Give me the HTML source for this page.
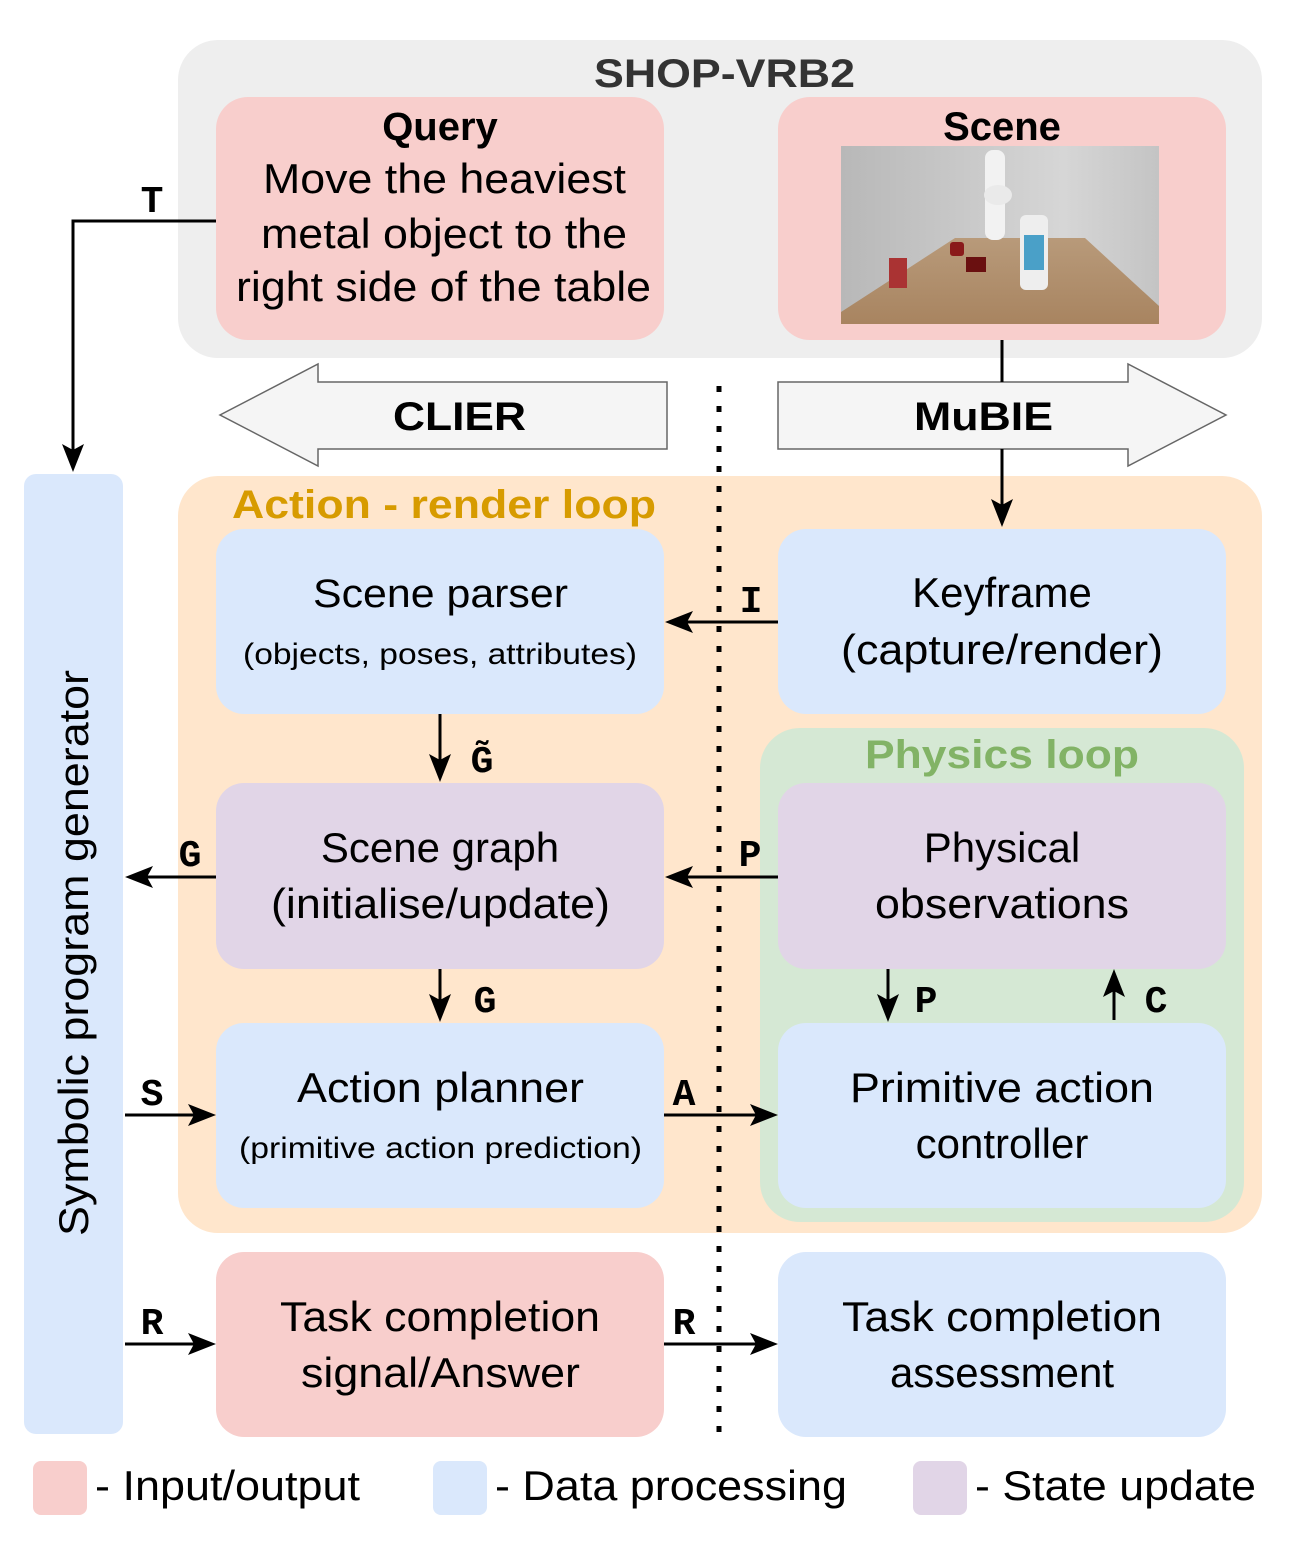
<!DOCTYPE html>
<html><head><meta charset="utf-8"><style>
body{margin:0;background:#fff;width:1294px;height:1538px;overflow:hidden}
</style></head><body>
<svg width="1294" height="1538" viewBox="0 0 1294 1538" xmlns="http://www.w3.org/2000/svg" font-family="Liberation Sans, sans-serif">
<defs>
<linearGradient id="wall" x1="0" y1="0" x2="1" y2="0"><stop offset="0" stop-color="#b8b8b8"/><stop offset="0.7" stop-color="#d6d6d6"/><stop offset="1" stop-color="#c4c4c4"/></linearGradient>
<linearGradient id="tab" x1="0" y1="0" x2="0" y2="1"><stop offset="0" stop-color="#b89a7a"/><stop offset="1" stop-color="#a88460"/></linearGradient>
</defs>
<rect x="178" y="40" width="1084" height="318" rx="40" fill="#eeeeee"/>
<text x="594" y="87" textLength="261" lengthAdjust="spacingAndGlyphs" font-size="40" font-weight="bold" fill="#333">SHOP-VRB2</text>
<rect x="216" y="97" width="448" height="243" rx="32" fill="#f8cecc"/>
<text x="440" y="140" text-anchor="middle" font-size="40" font-weight="bold">Query</text>
<text x="263" y="193" textLength="363" lengthAdjust="spacingAndGlyphs" font-size="42">Move the heaviest</text>
<text x="261" y="248" textLength="366" lengthAdjust="spacingAndGlyphs" font-size="42">metal object to the</text>
<text x="236" y="301" textLength="415" lengthAdjust="spacingAndGlyphs" font-size="42">right side of the table</text>
<rect x="778" y="97" width="448" height="243" rx="32" fill="#f8cecc"/>
<text x="1002" y="140" text-anchor="middle" font-size="40" font-weight="bold">Scene</text>
<rect x="841" y="146" width="318" height="178" fill="url(#wall)"/>
<polygon points="841,324 841,312 955,238 1085,238 1159,306 1159,324" fill="url(#tab)"/>
<rect x="985" y="150" width="20" height="90" rx="8" fill="#f2f2f2"/>
<ellipse cx="998" cy="195" rx="14" ry="10" fill="#eaeaea"/>
<rect x="950" y="242" width="14" height="14" rx="3" fill="#8a1a1a"/>
<rect x="966" y="257" width="20" height="15" fill="#6a1010"/>
<rect x="889" y="258" width="18" height="30" fill="#a33"/>
<rect x="1020" y="215" width="28" height="75" rx="6" fill="#eee"/>
<rect x="1024" y="235" width="20" height="35" fill="#4aa0c8"/>
<polygon points="318,364 318,382 667,382 667,449 318,449 318,466 220,415" fill="#f5f5f5" stroke="#666" stroke-width="1.5"/>
<text x="393" y="430" textLength="133" lengthAdjust="spacingAndGlyphs" font-size="40" font-weight="bold">CLIER</text>
<polygon points="778,382 1128,382 1128,364 1226,415 1128,466 1128,449 778,449" fill="#f5f5f5" stroke="#666" stroke-width="1.5"/>
<text x="914" y="430" textLength="139" lengthAdjust="spacingAndGlyphs" font-size="40" font-weight="bold">MuBIE</text>
<rect x="178" y="476" width="1084" height="757" rx="40" fill="#ffe6cc"/>
<text x="232" y="518" textLength="424" lengthAdjust="spacingAndGlyphs" font-size="40" font-weight="bold" fill="#d79b00">Action - render loop</text>
<rect x="760" y="728" width="484" height="494" rx="40" fill="#d5e8d4"/>
<text x="865" y="768" textLength="274" lengthAdjust="spacingAndGlyphs" font-size="40" font-weight="bold" fill="#82b366">Physics loop</text>
<rect x="216" y="529" width="448" height="185" rx="28" fill="#dae8fc"/>
<text x="313" y="607" textLength="255" lengthAdjust="spacingAndGlyphs" font-size="40">Scene parser</text>
<text x="243" y="664" textLength="394" lengthAdjust="spacingAndGlyphs" font-size="30">(objects, poses, attributes)</text>
<rect x="778" y="529" width="448" height="185" rx="28" fill="#dae8fc"/>
<text x="1002" y="607" text-anchor="middle" font-size="42">Keyframe</text>
<text x="841" y="664" textLength="322" lengthAdjust="spacingAndGlyphs" font-size="42">(capture/render)</text>
<rect x="216" y="783" width="448" height="186" rx="28" fill="#e1d5e7"/>
<text x="440" y="862" text-anchor="middle" font-size="42">Scene graph</text>
<text x="271" y="918" textLength="339" lengthAdjust="spacingAndGlyphs" font-size="42">(initialise/update)</text>
<rect x="778" y="783" width="448" height="186" rx="28" fill="#e1d5e7"/>
<text x="1002" y="862" text-anchor="middle" font-size="42">Physical</text>
<text x="875" y="918" textLength="254" lengthAdjust="spacingAndGlyphs" font-size="42">observations</text>
<rect x="216" y="1023" width="448" height="185" rx="28" fill="#dae8fc"/>
<text x="297" y="1102" textLength="287" lengthAdjust="spacingAndGlyphs" font-size="42">Action planner</text>
<text x="239" y="1158" textLength="403" lengthAdjust="spacingAndGlyphs" font-size="30">(primitive action prediction)</text>
<rect x="778" y="1023" width="448" height="185" rx="28" fill="#dae8fc"/>
<text x="850" y="1102" textLength="304" lengthAdjust="spacingAndGlyphs" font-size="42">Primitive action</text>
<text x="1002" y="1158" text-anchor="middle" font-size="42">controller</text>
<rect x="216" y="1252" width="448" height="185" rx="28" fill="#f8cecc"/>
<text x="280" y="1331" textLength="320" lengthAdjust="spacingAndGlyphs" font-size="42">Task completion</text>
<text x="301" y="1387" textLength="279" lengthAdjust="spacingAndGlyphs" font-size="42">signal/Answer</text>
<rect x="778" y="1252" width="448" height="185" rx="28" fill="#dae8fc"/>
<text x="842" y="1331" textLength="320" lengthAdjust="spacingAndGlyphs" font-size="42">Task completion</text>
<text x="1002" y="1387" text-anchor="middle" font-size="42">assessment</text>
<rect x="24" y="474" width="99" height="960" rx="12" fill="#dae8fc"/>
<text transform="translate(88,1236) rotate(-90)" textLength="566" lengthAdjust="spacingAndGlyphs" font-size="42">Symbolic program generator</text>
<line x1="719" y1="386" x2="719" y2="1444" stroke="#000" stroke-width="5" stroke-dasharray="6,14"/>
<g stroke="#000" stroke-width="3" fill="none">
<polyline points="216,221 73,221 73,452"/>
<line x1="1002" y1="340" x2="1002" y2="382"/>
<line x1="1002" y1="449" x2="1002" y2="508"/>
<line x1="778" y1="622" x2="685" y2="622"/>
<line x1="440" y1="714" x2="440" y2="762"/>
<line x1="778" y1="877" x2="685" y2="877"/>
<line x1="216" y1="877" x2="145" y2="877"/>
<line x1="440" y1="969" x2="440" y2="1002"/>
<line x1="888" y1="969" x2="888" y2="1002"/>
<line x1="1114" y1="1020" x2="1114" y2="988"/>
<line x1="125" y1="1115" x2="196" y2="1115"/>
<line x1="664" y1="1115" x2="758" y2="1115"/>
<line x1="125" y1="1344" x2="196" y2="1344"/>
<line x1="664" y1="1344" x2="758" y2="1344"/>
</g>
<g fill="#000">
<polygon points="73,472 62,444 73,450 84,444"/>
<polygon points="1002,527 991,499 1002,505 1013,499"/>
<polygon points="665,622 693,611 687,622 693,633"/>
<polygon points="440,782 429,754 440,760 451,754"/>
<polygon points="665,877 693,866 687,877 693,888"/>
<polygon points="125,877 153,866 147,877 153,888"/>
<polygon points="440,1022 429,994 440,1000 451,994"/>
<polygon points="888,1022 877,994 888,1000 899,994"/>
<polygon points="1114,969 1103,997 1114,991 1125,997"/>
<polygon points="216,1115 188,1104 194,1115 188,1126"/>
<polygon points="778,1115 750,1104 756,1115 750,1126"/>
<polygon points="216,1344 188,1333 194,1344 188,1355"/>
<polygon points="778,1344 750,1333 756,1344 750,1355"/>
</g>
<g font-family="Liberation Mono, monospace" font-weight="bold" font-size="38">
<text x="152" y="212" text-anchor="middle">T</text>
<text x="751" y="612" text-anchor="middle">I</text>
<text x="482" y="772" text-anchor="middle">G̃</text>
<text x="750" y="866" text-anchor="middle">P</text>
<text x="190" y="866" text-anchor="middle">G</text>
<text x="485" y="1012" text-anchor="middle">G</text>
<text x="926" y="1012" text-anchor="middle">P</text>
<text x="1156" y="1012" text-anchor="middle">C</text>
<text x="152" y="1105" text-anchor="middle">S</text>
<text x="684" y="1105" text-anchor="middle">A</text>
<text x="152" y="1334" text-anchor="middle">R</text>
<text x="684" y="1334" text-anchor="middle">R</text>
</g>
<rect x="33" y="1461" width="54" height="54" rx="8" fill="#f8cecc"/>
<text x="95" y="1500" textLength="265" lengthAdjust="spacingAndGlyphs" font-size="42">- Input/output</text>
<rect x="433" y="1461" width="54" height="54" rx="8" fill="#dae8fc"/>
<text x="495" y="1500" textLength="352" lengthAdjust="spacingAndGlyphs" font-size="42">- Data processing</text>
<rect x="913" y="1461" width="54" height="54" rx="8" fill="#e1d5e7"/>
<text x="975" y="1500" textLength="281" lengthAdjust="spacingAndGlyphs" font-size="42">- State update</text>
</svg>
</body></html>
